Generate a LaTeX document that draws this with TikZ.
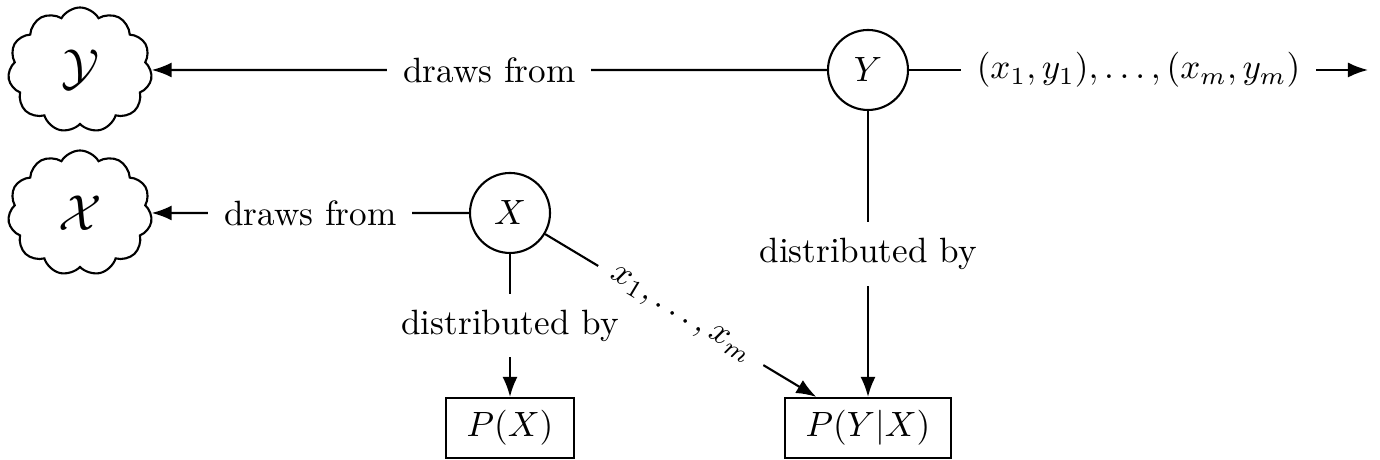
\documentclass[tikz,border=0pt]{standalone}
\usepackage{amsmath,amssymb}
\usepackage{tikz}
\usetikzlibrary{shapes,arrows.meta}

\begin{document}
\begin{tikzpicture}[>=Latex, semithick,
  rv/.style={circle, draw, minimum size=0.8cm, inner sep=0pt},
  pd/.style={rectangle, draw, minimum height=0.6cm, inner xsep=6pt},
  pool/.style={cloud, draw, cloud puffs=11, cloud puff arc=120, minimum width=1.44cm, minimum height=1.25cm, inner sep=0pt},
  lbl/.style={fill=white, inner sep=4.5pt}]
  \useasboundingbox (0,0) rectangle (13.8,4.6);

  % sample spaces
  \node[pool] (SY) at (0.80, 3.90) {\Large $\mathcal{Y}$};
  \node[pool] (SX) at (0.80, 2.47) {\Large $\mathcal{X}$};

  % random variables
  \node[rv] (Y) at (8.68, 3.90) {$Y$};
  \node[rv] (X) at (5.10, 2.47) {$X$};

  % distributions
  \node[pd] (PX) at (5.10, 0.32) {$P(X)$};
  \node[pd] (PYX) at (8.68, 0.32) {$P(Y|X)$};

  \coordinate (out) at (13.68, 3.90);

  \draw[->] (Y) -- node[lbl] {draws from} (SY);
  \draw[->] (X) -- node[lbl] {draws from} (SX);
  \draw[->] (X) -- node[lbl] {distributed by} (PX);
  \draw[->] (Y) -- node[lbl] {distributed by} (PYX);
  \draw[->] (X) -- node[lbl, sloped] {$x_1, \ldots, x_m$} (PYX);
  \draw[->] (Y) -- node[lbl] {$(x_1, y_1), \ldots, (x_m, y_m)$} (out);
\end{tikzpicture}
\end{document}
